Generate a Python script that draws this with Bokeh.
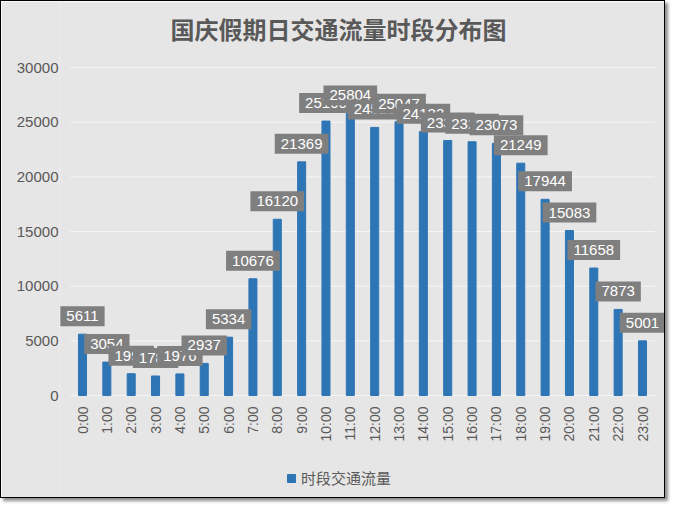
import math
from bokeh.plotting import figure
from bokeh.models import ColumnDataSource, Range1d, FactorRange, Legend, LegendItem, Label
from bokeh.core.properties import value
from bokeh.embed import file_html
from bokeh.resources import INLINE

title_text = "国庆假期日交通流量时段分布图"
series_name = "时段交通流量"
hours = ["0:00", "1:00", "2:00", "3:00", "4:00", "5:00", "6:00", "7:00",
         "8:00", "9:00", "10:00", "11:00", "12:00", "13:00", "14:00", "15:00",
         "16:00", "17:00", "18:00", "19:00", "20:00", "21:00", "22:00", "23:00"]
flow = [5611, 3054, 1992, 1786, 1976, 2937, 5334, 10676,
        16120, 21369, 25100, 25804, 24518, 25047, 24133, 23320,
        23210, 23073, 21249, 17944, 15083, 11658, 7873, 5001]
y_ticks = [0, 5000, 10000, 15000, 20000, 25000, 30000]

BG = "#e7e6e6"
TXT = "#595959"
BAR = "#2e75b6"

# layout (pixels inside the figure)
W, H = 665, 498
F_LEFT, F_RIGHT, F_TOP, F_BOTTOM = 58, 664, 1, 497
Y0_PX, YMAX_PX = 394, 66                      # where 0 and 30000 sit
per_px = (y_ticks[-1] - y_ticks[0]) / (Y0_PX - YMAX_PX)
y_start = -(F_BOTTOM - Y0_PX) * per_px
y_end = y_ticks[-1] + (YMAX_PX - F_TOP) * per_px
cat_w = (641 - 81) / (len(hours) - 1)           # px per category
side_pad = (81 - F_LEFT) / cat_w - 0.5           # categories of padding per side
pad_pct = 2 * side_pad / len(hours)

src = ColumnDataSource(dict(hour=hours, flow=flow, label=[str(v) for v in flow]))

p = figure(x_range=FactorRange(factors=hours, range_padding=pad_pct,
                               range_padding_units="percent"),
           y_range=Range1d(y_start, y_end), title=None,
           width=W, height=H, output_backend="svg", toolbar_location=None,
           min_border_left=F_LEFT, min_border_right=W - F_RIGHT,
           min_border_top=F_TOP, min_border_bottom=H - F_BOTTOM)
p.background_fill_color = BG
p.border_fill_color = BG
p.outline_line_color = None
p.styles = {"border": "1px solid #000", "box-shadow": "3px 3px 3px rgba(0,0,0,0.45)"}

# horizontal gridlines spanning the category area
p.xgrid.grid_line_color = None
p.ygrid.grid_line_color = None
p.segment(x0=[0] * len(y_ticks), x1=[len(hours)] * len(y_ticks),
          y0=y_ticks, y1=y_ticks, line_color="#f6f6f6", line_width=1)

r = p.vbar(x="hour", top="flow", width=0.33, source=src, color=BAR)

p.text(x="hour", y="flow", text="label", source=src, text_align="center",
       text_baseline="middle", y_offset=-18, text_color="white",
       text_font=value("Liberation Sans"), text_font_size="15px",
       background_fill_color="#7f7f7f", padding=(6, 5))

p.yaxis.ticker = y_ticks
p.yaxis.axis_line_color = None
p.yaxis.major_tick_line_color = None
p.yaxis.minor_tick_line_color = None
p.yaxis.major_tick_out = 0
p.yaxis.major_tick_in = 0
p.yaxis.major_label_standoff = 1
p.yaxis.major_label_text_color = TXT
p.yaxis.major_label_text_font = "Liberation Sans"
p.yaxis.major_label_text_font_size = "15px"

p.xaxis.fixed_location = 0
p.xaxis.axis_line_color = None
p.xaxis.major_tick_line_color = None
p.xaxis.minor_tick_line_color = None
p.xaxis.major_tick_out = 0
p.xaxis.major_tick_in = 0
p.xaxis.major_label_orientation = math.pi / 2
p.xaxis.major_label_standoff = 11
p.xaxis.major_label_text_color = TXT
p.xaxis.major_label_text_font = "Liberation Sans"
p.xaxis.major_label_text_font_size = "14px"

title = Label(x=337 - F_LEFT, y=F_BOTTOM - 27, x_units="screen", y_units="screen",
              text=title_text, text_align="center", text_baseline="middle",
              text_font="Noto Sans CJK SC", text_font_size="24px",
              text_font_style="bold", text_color=TXT)
p.add_layout(title)

legend = Legend(items=[LegendItem(label=series_name, renderers=[r])],
                orientation="horizontal", location=(285 - F_LEFT, F_BOTTOM - 487))
legend.label_text_font = "Noto Sans CJK SC"
legend.label_text_font_size = "15px"
legend.label_text_color = TXT
legend.glyph_width = 10
legend.glyph_height = 10
legend.label_standoff = 5
legend.background_fill_alpha = 0
legend.border_line_alpha = 0
legend.margin = 0
legend.padding = 0
p.add_layout(legend)

open("out.html", "w").write(file_html(p, INLINE))
